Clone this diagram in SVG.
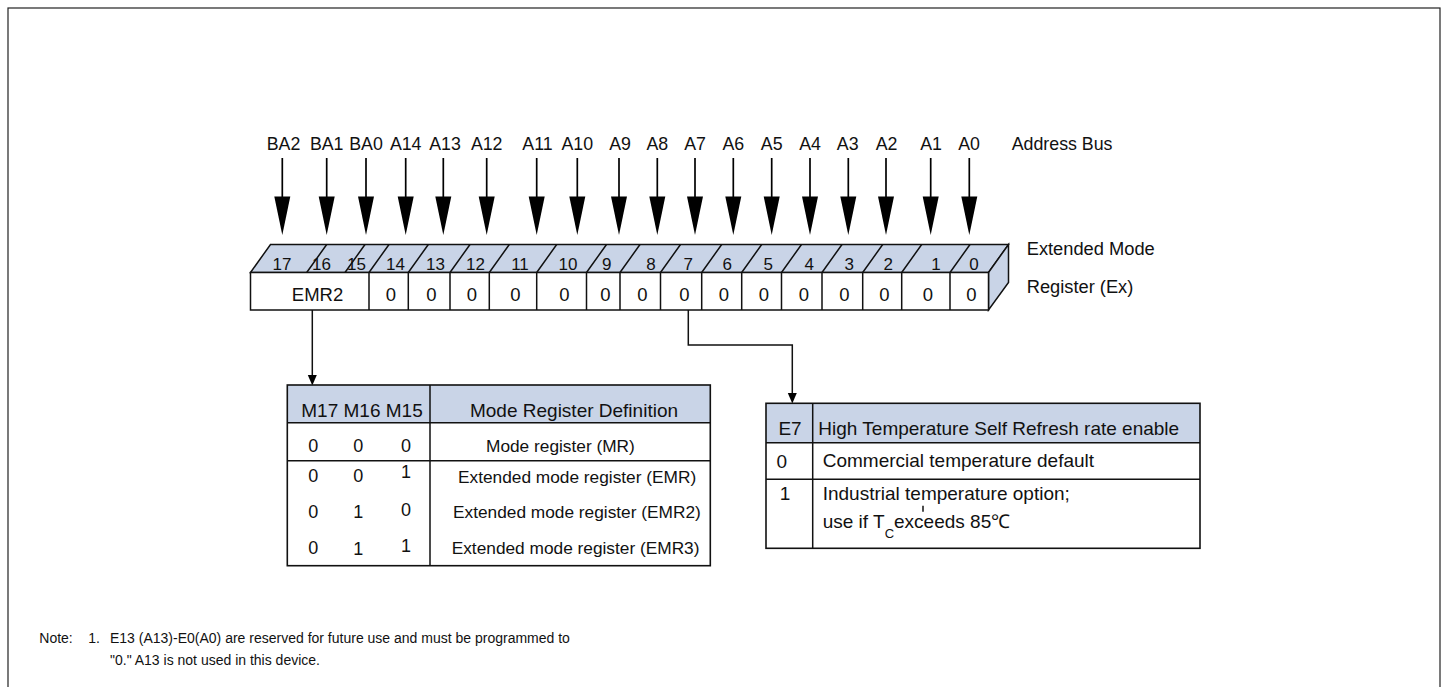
<svg xmlns="http://www.w3.org/2000/svg" width="1448" height="687" viewBox="0 0 1448 687">
<style>
text{font-family:"Liberation Sans",Arial,sans-serif;fill:#111}
.addr{font-size:17.8px;text-anchor:middle}
.bit{font-size:17px;text-anchor:middle}
.cell{font-size:18.5px;text-anchor:middle}
.side{font-size:18.3px}
.tbl{font-size:17.3px}
.hdr{font-size:19px;text-anchor:middle}
.tc{text-anchor:middle}
.note{font-size:14px}
.ln{stroke:#111;stroke-width:1.5;fill:none}
.face{fill:#c9d4e7;stroke:#111;stroke-width:1.5}
.shaft{stroke:#000;stroke-width:1.7}
.head{fill:#000}
</style>
<rect x="8" y="8" width="1432" height="700" fill="none" stroke="#222" stroke-width="1.2"/>

<g id="address-bus">
<g class="addr">
<text x="283.5" y="150">BA2</text>
<text x="326.7" y="150">BA1</text>
<text x="366" y="150">BA0</text>
<text x="405.7" y="150">A14</text>
<text x="445" y="150">A13</text>
<text x="486.7" y="150">A12</text>
<text x="537.5" y="150">A11</text>
<text x="577.3" y="150">A10</text>
<text x="620" y="150">A9</text>
<text x="657.3" y="150">A8</text>
<text x="695" y="150">A7</text>
<text x="733.3" y="150">A6</text>
<text x="771.7" y="150">A5</text>
<text x="810" y="150">A4</text>
<text x="847.7" y="150">A3</text>
<text x="886.5" y="150">A2</text>
<text x="931" y="150">A1</text>
<text x="969" y="150">A0</text>
</g>
<text x="1011.7" y="150" style="font-size:17.8px">Address Bus</text>
</g>

<g id="bus-arrows">
<g class="shaft">
<line x1="282.3" y1="158" x2="282.3" y2="198"/>
<line x1="326.7" y1="158" x2="326.7" y2="198"/>
<line x1="366" y1="158" x2="366" y2="198"/>
<line x1="405.7" y1="158" x2="405.7" y2="198"/>
<line x1="443.3" y1="158" x2="443.3" y2="198"/>
<line x1="486.7" y1="158" x2="486.7" y2="198"/>
<line x1="536.7" y1="158" x2="536.7" y2="198"/>
<line x1="577.3" y1="158" x2="577.3" y2="198"/>
<line x1="619" y1="158" x2="619" y2="198"/>
<line x1="657.3" y1="158" x2="657.3" y2="198"/>
<line x1="695" y1="158" x2="695" y2="198"/>
<line x1="733.3" y1="158" x2="733.3" y2="198"/>
<line x1="771.7" y1="158" x2="771.7" y2="198"/>
<line x1="810" y1="158" x2="810" y2="198"/>
<line x1="848.3" y1="158" x2="848.3" y2="198"/>
<line x1="886" y1="158" x2="886" y2="198"/>
<line x1="930.7" y1="158" x2="930.7" y2="198"/>
<line x1="969.3" y1="158" x2="969.3" y2="198"/>
</g>
<g class="head">
<polygon points="274.3,196.5 290.3,196.5 282.3,235"/>
<polygon points="318.7,196.5 334.7,196.5 326.7,235"/>
<polygon points="358,196.5 374,196.5 366,235"/>
<polygon points="397.7,196.5 413.7,196.5 405.7,235"/>
<polygon points="435.3,196.5 451.3,196.5 443.3,235"/>
<polygon points="478.7,196.5 494.7,196.5 486.7,235"/>
<polygon points="528.7,196.5 544.7,196.5 536.7,235"/>
<polygon points="569.3,196.5 585.3,196.5 577.3,235"/>
<polygon points="611,196.5 627,196.5 619,235"/>
<polygon points="649.3,196.5 665.3,196.5 657.3,235"/>
<polygon points="687,196.5 703,196.5 695,235"/>
<polygon points="725.3,196.5 741.3,196.5 733.3,235"/>
<polygon points="763.7,196.5 779.7,196.5 771.7,235"/>
<polygon points="802,196.5 818,196.5 810,235"/>
<polygon points="840.3,196.5 856.3,196.5 848.3,235"/>
<polygon points="878,196.5 894,196.5 886,235"/>
<polygon points="922.7,196.5 938.7,196.5 930.7,235"/>
<polygon points="961.3,196.5 977.3,196.5 969.3,235"/>
</g>
</g>

<g id="register">
<polygon class="face" points="250.5,272.5 270.5,244.5 1008.5,244.5 988.5,272.5"/>
<polygon class="face" points="988.5,272.5 1008.5,244.5 1008.5,282.5 988.5,310"/>
<rect x="250.5" y="272.5" width="738" height="37.5" fill="#fff" stroke="#111" stroke-width="1.5"/>
<g class="ln">
<path d="M306.7,272.5 L326.7,244.5 M345,272.5 L365,244.5 M369,272.5 L389,244.5 M408.3,272.5 L428.3,244.5 M450,272.5 L470,244.5 M489.3,272.5 L509.3,244.5 M536.7,272.5 L556.7,244.5 M586.5,272.5 L606.5,244.5 M620,272.5 L640,244.5 M660.5,272.5 L680.5,244.5 M701.7,272.5 L721.7,244.5 M741.7,272.5 L761.7,244.5 M781.5,272.5 L801.5,244.5 M822,272.5 L842,244.5 M862.7,272.5 L882.7,244.5 M901.7,272.5 L921.7,244.5 M950,272.5 L970,244.5"/>
<path d="M369,272.5 V310 M408.3,272.5 V310 M450,272.5 V310 M489.3,272.5 V310 M536.7,272.5 V310 M586.5,272.5 V310 M620,272.5 V310 M660.5,272.5 V310 M701.7,272.5 V310 M741.7,272.5 V310 M781.5,272.5 V310 M822,272.5 V310 M862.7,272.5 V310 M901.7,272.5 V310 M950,272.5 V310"/>
</g>
<g class="bit">
<text x="282" y="270">17</text>
<text x="321.5" y="270">16</text>
<text x="356.5" y="270">15</text>
<text x="395.5" y="270">14</text>
<text x="435.5" y="270">13</text>
<text x="475.5" y="270">12</text>
<text x="520" y="270">11</text>
<text x="568" y="270">10</text>
<text x="606.7" y="270">9</text>
<text x="651" y="270">8</text>
<text x="688.3" y="270">7</text>
<text x="727.3" y="270">6</text>
<text x="768.3" y="270">5</text>
<text x="809.3" y="270">4</text>
<text x="849.3" y="270">3</text>
<text x="888.3" y="270">2</text>
<text x="936" y="270">1</text>
<text x="974" y="270">0</text>
</g>
<g class="cell">
<text x="317.5" y="301.3">EMR2</text>
<text x="391" y="301.3">0</text>
<text x="431.5" y="301.3">0</text>
<text x="472" y="301.3">0</text>
<text x="515.5" y="301.3">0</text>
<text x="564.5" y="301.3">0</text>
<text x="605.5" y="301.3">0</text>
<text x="642.5" y="301.3">0</text>
<text x="684.5" y="301.3">0</text>
<text x="724" y="301.3">0</text>
<text x="764" y="301.3">0</text>
<text x="804" y="301.3">0</text>
<text x="844.5" y="301.3">0</text>
<text x="884.5" y="301.3">0</text>
<text x="928" y="301.3">0</text>
<text x="971.5" y="301.3">0</text>
</g>
<text class="side" x="1026.7" y="255">Extended Mode</text>
<text class="side" x="1026.7" y="293.3">Register (Ex)</text>
</g>

<g id="connectors">
<path class="ln" d="M312.3,310 V377"/>
<polygon class="head" points="307.8,375 316.8,375 312.3,385.5"/>
<path class="ln" d="M688.3,310 V345 H792.3 V395"/>
<polygon class="head" points="787.8,393 796.8,393 792.3,403.5"/>
</g>

<g id="mode-register-table">
<rect x="287.3" y="385" width="423" height="37.7" fill="#c9d4e7"/>
<rect x="287.3" y="385" width="423" height="180.7" fill="none" stroke="#111" stroke-width="1.6"/>
<g class="ln">
<path d="M287.3,422.7 H710.3 M287.3,460.7 H710.3 M430,385 V565.7"/>
</g>
<text x="362" y="416.7" class="hdr">M17 M16 M15</text>
<text x="574" y="416.7" class="hdr">Mode Register Definition</text>
<g class="tbl" style="font-size:18px">
<text x="313.3" y="451.5" class="tc">0</text>
<text x="358.3" y="451.5" class="tc">0</text>
<text x="406" y="451.5" class="tc">0</text>
<text x="313.3" y="482" class="tc">0</text>
<text x="358.3" y="482" class="tc">0</text>
<text x="406" y="478" class="tc">1</text>
<text x="313.3" y="517.5" class="tc">0</text>
<text x="358.3" y="518" class="tc">1</text>
<text x="406" y="515.5" class="tc">0</text>
<text x="313.3" y="554" class="tc">0</text>
<text x="358.3" y="555" class="tc">1</text>
<text x="406" y="551.5" class="tc">1</text>
</g>
<g class="tbl">
<text x="486" y="451.5">Mode register (MR)</text>
<text x="458" y="483">Extended mode register (EMR)</text>
<text x="453" y="518">Extended mode register (EMR2)</text>
<text x="451.7" y="553.5">Extended mode register (EMR3)</text>
</g>
</g>

<g id="e7-table">
<rect x="766" y="403.3" width="434" height="39.4" fill="#c9d4e7"/>
<rect x="766" y="403.3" width="434" height="145" fill="none" stroke="#111" stroke-width="1.6"/>
<g class="ln">
<path d="M766,442.7 H1200 M766,479.3 H1200 M812.7,403.3 V548.3"/>
</g>
<g class="tbl" style="font-size:19px">
<text x="790" y="435" class="tc">E7</text>
<text x="818.3" y="435">High Temperature Self Refresh rate enable</text>
<text x="781.7" y="468.3" class="tc">0</text>
<text x="822.7" y="467">Commercial temperature default</text>
<text x="785" y="500" class="tc">1</text>
<text x="822.7" y="500">Industrial temperature option;</text>
<text x="822.7" y="528.3">use if T<tspan dy="10" style="font-size:13px">C</tspan><tspan dy="-10">exceeds 85℃</tspan></text>
</g>
<line class="ln" x1="923" y1="505.7" x2="923" y2="511.7" stroke-width="1"/>
</g>

<g id="note">
<text class="note" x="39.3" y="643.3">Note:</text>
<text class="note" x="88.3" y="643.3">1.</text>
<text class="note" x="110" y="643.3">E13 (A13)-E0(A0) are reserved for future use and must be programmed to</text>
<text class="note" x="110" y="665">"0." A13 is not used in this device.</text>
</g>
</svg>
